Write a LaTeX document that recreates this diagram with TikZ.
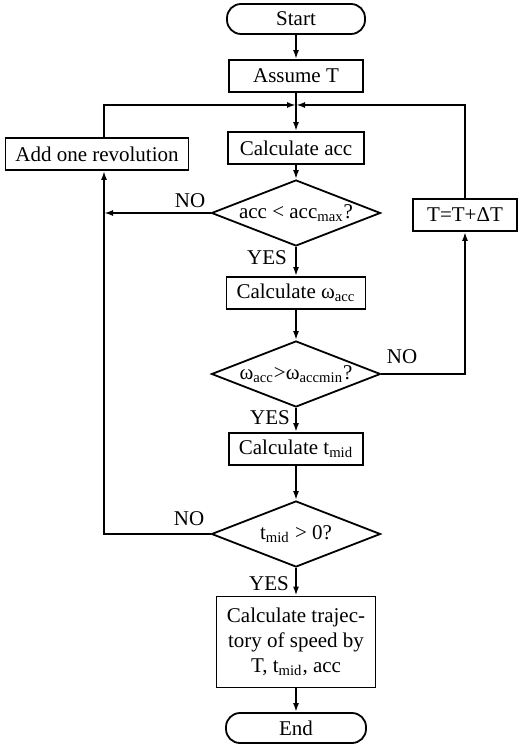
\documentclass[tikz,border=0pt]{standalone}
\usepackage{fontspec}
\setmainfont{Liberation Serif}
\usetikzlibrary{shapes.geometric,arrows.meta}
\begin{document}
\begin{tikzpicture}[x=0.5pt,y=-0.5pt,line width=0.9pt,
	font=\fontsize{10.5}{12.5}\selectfont,
	proc/.style={draw,minimum height=16pt,inner sep=2pt},
	term/.style={draw,rounded corners=7pt,minimum height=15pt},
	decision/.style={draw,diamond,aspect=2.5,inner sep=0pt,minimum width=84.5pt,minimum height=33pt},
	flow/.style={-{Latex[length=4.5pt,width=3pt]}}]
	\useasboundingbox (0,0) rectangle (520,747);

	% main column
	\node[term,minimum width=69pt] (start) at (296,19) {Start};
	\node[proc,minimum width=67pt] (assume) at (296,76) {Assume T};
	\coordinate (join) at (296,105);
	\node[proc,minimum width=68pt] (acc) at (296,148) {Calculate acc};
	\node[decision] (chkacc) at (296,213) {acc < acc\textsubscript{max}?};
	\node[proc,minimum width=69.5pt] (omega) at (296,293) {Calculate ω\textsubscript{acc}};
	\node[decision] (chkomega) at (296,374) {ω\textsubscript{acc}>ω\textsubscript{accmin}?};
	\node[proc,minimum width=67pt] (tmid) at (296,449) {Calculate t\textsubscript{mid}};
	\node[decision] (chktmid) at (296,534) {t\textsubscript{mid} > 0?};
	\node[proc,minimum width=79.5pt,minimum height=45.5pt,align=center] (traj) at (296,642)
		{Calculate trajec-\\tory of speed by\\T, t\textsubscript{mid}, acc};
	\node[term,minimum width=70pt] (end) at (296,728) {End};

	% side boxes
	\node[proc,minimum width=91.5pt] (addrev) at (97,154) {Add one revolution};
	\node[proc,minimum width=52pt] (incT) at (465,215) {T=T+ΔT};
	\coordinate (lbend) at (104,105);

	\draw[flow] (start) -- (assume);
	\draw[flow] (assume) -- (acc);
	\draw[flow] (acc) -- (chkacc);
	\draw[flow] (chkacc) -- (omega);
	\draw[flow] (omega) -- (chkomega);
	\draw[flow] (chkomega) -- (tmid);
	\draw[flow] (tmid) -- (chktmid);
	\draw[flow] (chktmid) -- (traj);
	\draw[flow] (traj) -- (end);

	% loops
	\draw[flow] (addrev.north -| lbend) -- (lbend) -- (join);
	\draw[flow] (incT.north) |- (join);
	\draw[flow] (chkacc.west) -- (chkacc.west -| lbend);
	\draw[flow] (chktmid.west) -| (addrev.south -| lbend);
	\draw[flow] (chkomega.east) -| (incT.south);

	\node (noacc) at (190,201) {NO};
	\node (yesacc) at (267,258) {YES};
	\node (noomega) at (402,357) {NO};
	\node (yesomega) at (270,418) {YES};
	\node (notmid) at (189,519) {NO};
	\node (yestmid) at (269,584) {YES};
\end{tikzpicture}
\end{document}
